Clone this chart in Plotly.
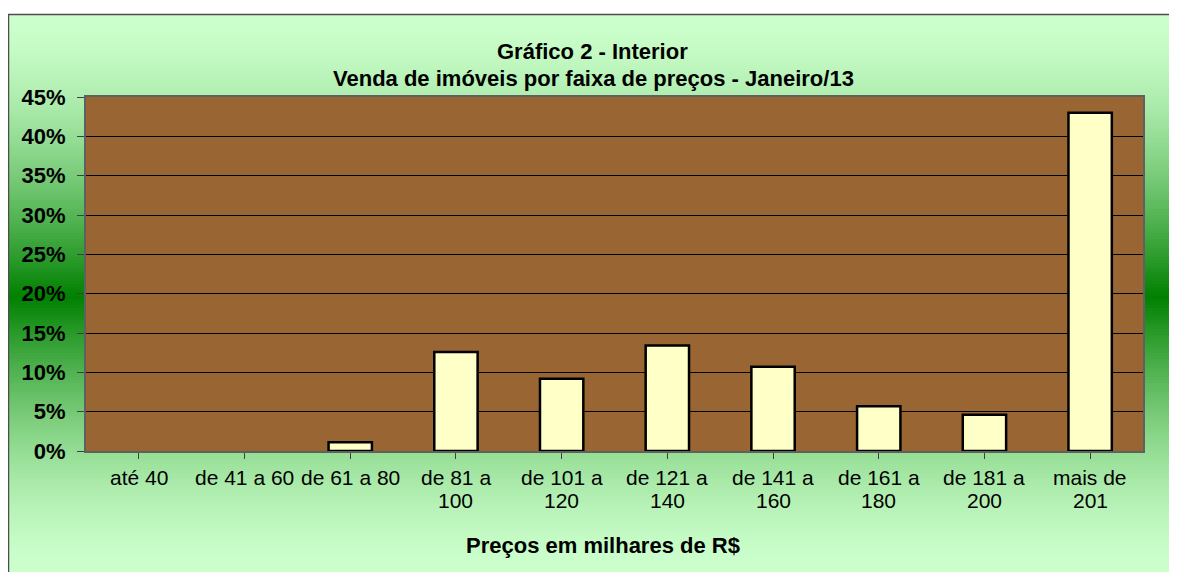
import plotly.graph_objects as go

# data
faixas = ["até 40", "de 41 a 60", "de 61 a 80", "de 81 a\n100", "de 101 a\n120",
          "de 121 a\n140", "de 141 a\n160", "de 161 a\n180", "de 181 a\n200", "mais de\n201"]
vendas = [0.0, 0.0, 0.011, 0.126, 0.092, 0.134, 0.107, 0.057, 0.046, 0.430]
y_ticks = [0.0, 0.05, 0.10, 0.15, 0.20, 0.25, 0.30, 0.35, 0.40, 0.45]

# the page puts the figure 8px in from the top-left corner
OFF = 8
W, H = 1177 - OFF, 572 - OFF
L, R, T, B = 86 - OFF, 34, 97 - OFF, 121
PW, PH = W - L - R, H - T - B
FONT = "Liberation Sans, Arial, sans-serif"


def px_x(p):
    # p is a pixel position in the screenshot
    return (p - OFF - L) / PW


def px_y(p):
    return (H - B - (p - OFF)) / PH


def green_at(py):
    # light green at top and bottom, dark green in the middle
    mid, top, bot = 297, 14, 574
    if py <= mid:
        s = (py - top) / (mid - top)
    else:
        s = (bot - py) / (bot - mid)
    s = max(0.0, min(1.0, s)) ** 1.6
    lo, hi = (204, 255, 204), (0, 128, 0)
    c = [round(lo[i] + (hi[i] - lo[i]) * s) for i in range(3)]
    return "rgb(%d,%d,%d)" % tuple(c)


shapes = []
step = 3
for py in range(14, 580, step):
    shapes.append(dict(type="rect", xref="paper", yref="paper", layer="below",
                       x0=px_x(8), x1=px_x(1185), y0=px_y(py + step + 0.5), y1=px_y(py),
                       fillcolor=green_at(py + step / 2), line_width=0))
# plot area on top of the gradient
shapes.append(dict(type="rect", xref="paper", yref="paper", layer="below",
                   x0=0, x1=1, y0=0, y1=1, fillcolor="#996633", line_width=0))
# chart frame
shapes.append(dict(type="rect", xref="paper", yref="paper", layer="below",
                   x0=px_x(8.5), x1=px_x(1190), y0=px_y(590), y1=px_y(14.5),
                   line=dict(color="#4d4d4d", width=1.5), fillcolor="rgba(0,0,0,0)"))

fig = go.Figure(go.Bar(
    x=list(range(len(faixas))), y=vendas,
    marker=dict(color="#FFFFC8",
                line=dict(color="black", width=[0 if v == 0 else 2.5 for v in vendas])),
))

annotations = [
    dict(text="<b>Gráfico 2 - Interior</b>", x=px_x(592), y=px_y(52)),
    dict(text="<b>Venda de imóveis por faixa de preços - Janeiro/13</b>", x=px_x(593), y=px_y(78)),
    dict(text="<b>Preços em milhares de R$</b>", x=px_x(603), y=px_y(545)),
]
for a in annotations:
    a.update(xref="paper", yref="paper", showarrow=False, xanchor="center", yanchor="middle",
             font=dict(family=FONT, size=22, color="black"))

# category labels, line by line
for i, lab in enumerate(faixas):
    for j, line in enumerate(lab.split("\n")):
        annotations.append(dict(text=line, x=i, xref="x", y=px_y(477 + 23 * j), yref="paper",
                                showarrow=False, xanchor="center", yanchor="middle",
                                font=dict(family=FONT, size=21, color="black")))

fig.update_layout(
    width=W, height=H,
    margin=dict(l=L, r=R, t=T, b=B),
    paper_bgcolor="white",
    plot_bgcolor="#996633",
    bargap=0.59,
    showlegend=False,
    shapes=shapes,
    annotations=annotations,
    font=dict(family=FONT, color="black"),
)
fig.update_xaxes(range=[-0.5, len(faixas) - 0.5], tickvals=list(range(len(faixas))),
                 showticklabels=False, ticks="outside", tickson="boundaries", ticklen=6,
                 tickcolor="#404040", showgrid=False, showline=True, linecolor="#606060",
                 linewidth=2, mirror=True, zeroline=False)
fig.update_yaxes(range=[0, 0.45], tickvals=y_ticks, tickformat=".0%", ticks="outside",
                 ticklen=7, tickcolor="#404040", showgrid=True, gridcolor="black", gridwidth=1,
                 showline=True, linecolor="#606060", linewidth=2, mirror=True, zeroline=False,
                 tickfont=dict(family=FONT, size=22, color="black", weight="bold"),
                 ticklabelstandoff=7)

fig.write_html("out.html")
